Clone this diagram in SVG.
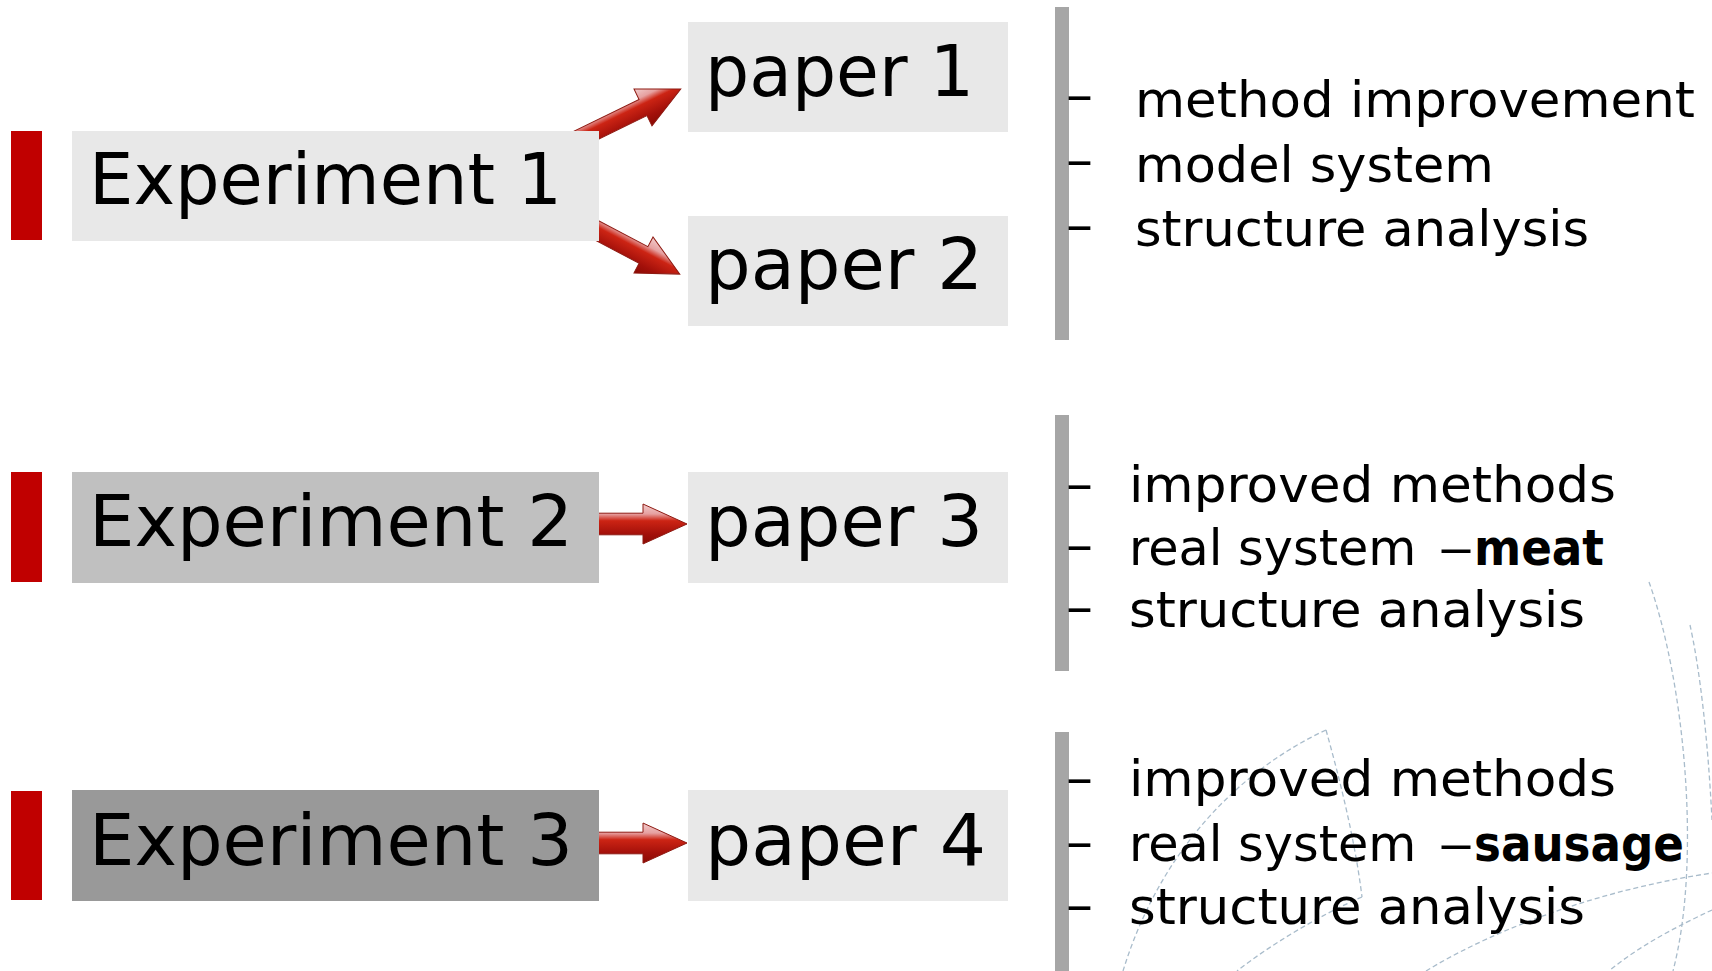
<svg xmlns="http://www.w3.org/2000/svg" width="1712" height="971" viewBox="0 0 1712 971">
  <style>
    .bar { fill: #c00000; }
    .note-bar { fill: #a6a6a6; }
    .box-light { fill: #e8e8e8; }
    .box-mid { fill: #c0c0c0; }
    .box-dark { fill: #999999; }
    .big { font-family: "DejaVu Sans", "Liberation Sans", sans-serif; font-size: 72px; fill: #000; }
    .note { font-family: "DejaVu Sans", "Liberation Sans", sans-serif; font-size: 50px; fill: #000; }
    .dash { font-family: "DejaVu Sans", "Liberation Sans", sans-serif; font-size: 52px; fill: #000; }
    .b { font-weight: bold; }
    .deco { fill: none; stroke: #a9bccb; stroke-width: 1.3; stroke-dasharray: 5 3; }
    .arrow { fill: url(#arrowGrad); stroke: #8e1a12; stroke-width: 1; stroke-linejoin: miter; }
  </style>
  <defs>
    <linearGradient id="arrowGrad" gradientUnits="userSpaceOnUse" x1="0" y1="-20" x2="0" y2="20">
      <stop offset="0" stop-color="#f2cccc"/>
      <stop offset="0.25" stop-color="#e6a0a0"/>
      <stop offset="0.42" stop-color="#cc2414"/>
      <stop offset="0.75" stop-color="#a3100a"/>
      <stop offset="1" stop-color="#8a0a04"/>
    </linearGradient>
  </defs>
  <rect width="1712" height="971" fill="#ffffff"/>

  <!-- background decoration -->
  <g id="decoration">
    <path class="deco" d="M1649,582 C1684,680 1702,860 1673,971"/>
    <path class="deco" d="M1690,625 C1700,670 1708,740 1712,820"/>
    <path class="deco" d="M1326,730 C1240,770 1160,850 1123,971"/>
    <path class="deco" d="M1326,730 C1340,780 1355,840 1362,897"/>
    <path class="deco" d="M1362,897 C1320,915 1270,945 1237,971"/>
    <path class="deco" d="M1426,971 C1480,938 1580,893 1712,873"/>
    <path class="deco" d="M1712,910 C1680,925 1640,945 1609,971"/>
  </g>

  <!-- connectors -->
  <g id="connectors">
    <path class="arrow" transform="translate(643,107.5) rotate(-26)" d="M-90,-9 L0,-9 L0,-20.5 L42,0 L0,20.5 L0,9 L-90,9 Z"/>
    <path class="arrow" transform="translate(643.5,255) rotate(27.8)" d="M-90,-9.4 L0,-9.4 L0,-20.4 L41,0 L0,20.4 L0,9.4 L-90,9.4 Z"/>
    <path class="arrow" transform="translate(643,524)" d="M-50,-10.8 L0,-10.8 L0,-20 L44,0 L0,20 L0,10.8 L-50,10.8 Z"/>
    <path class="arrow" transform="translate(643,843)" d="M-50,-10.8 L0,-10.8 L0,-20 L44,0 L0,20 L0,10.8 L-50,10.8 Z"/>
  </g>

  <!-- experiments -->
  <g id="experiment1">
    <rect class="bar" x="11" y="131" width="31" height="109"/>
    <rect class="box-light" x="72" y="131" width="527" height="110"/>
    <text class="big" x="89" y="204" textLength="473" lengthAdjust="spacingAndGlyphs">Experiment 1</text>
  </g>
  <g id="experiment2">
    <rect class="bar" x="11" y="472" width="31" height="110"/>
    <rect class="box-mid" x="72" y="472" width="527" height="111"/>
    <text class="big" x="89" y="545.5" textLength="484" lengthAdjust="spacingAndGlyphs">Experiment 2</text>
  </g>
  <g id="experiment3">
    <rect class="bar" x="11" y="791" width="31" height="109"/>
    <rect class="box-dark" x="72" y="790" width="527" height="111"/>
    <text class="big" x="89" y="864.5" textLength="484" lengthAdjust="spacingAndGlyphs">Experiment 3</text>
  </g>

  <!-- papers -->
  <g id="paper1">
    <rect class="box-light" x="688" y="22" width="320" height="110"/>
    <text class="big" x="705" y="96" textLength="269" lengthAdjust="spacingAndGlyphs">paper 1</text>
  </g>
  <g id="paper2">
    <rect class="box-light" x="688" y="216" width="320" height="110"/>
    <text class="big" x="705" y="289" textLength="278" lengthAdjust="spacingAndGlyphs">paper 2</text>
  </g>
  <g id="paper3">
    <rect class="box-light" x="688" y="472" width="320" height="111"/>
    <text class="big" x="705" y="545.5" textLength="278" lengthAdjust="spacingAndGlyphs">paper 3</text>
  </g>
  <g id="paper4">
    <rect class="box-light" x="688" y="790" width="320" height="111"/>
    <text class="big" x="705" y="864.5" textLength="281" lengthAdjust="spacingAndGlyphs">paper 4</text>
  </g>

  <!-- notes -->
  <g id="notes1">
    <rect class="note-bar" x="1055" y="7" width="14" height="333"/>
    <text class="dash" x="1066" y="112" textLength="27" lengthAdjust="spacingAndGlyphs">–</text>
    <text class="dash" x="1066" y="177" textLength="27" lengthAdjust="spacingAndGlyphs">–</text>
    <text class="dash" x="1066" y="242" textLength="27" lengthAdjust="spacingAndGlyphs">–</text>
    <text class="note" x="1135" y="117" textLength="560" lengthAdjust="spacingAndGlyphs">method improvement</text>
    <text class="note" x="1135" y="182" textLength="359" lengthAdjust="spacingAndGlyphs">model system</text>
    <text class="note" x="1135" y="246" textLength="454" lengthAdjust="spacingAndGlyphs">structure analysis</text>
  </g>
  <g id="notes2">
    <rect class="note-bar" x="1055" y="415" width="14" height="256"/>
    <text class="dash" x="1066" y="501" textLength="27" lengthAdjust="spacingAndGlyphs">–</text>
    <text class="dash" x="1066" y="562" textLength="27" lengthAdjust="spacingAndGlyphs">–</text>
    <text class="dash" x="1066" y="624" textLength="27" lengthAdjust="spacingAndGlyphs">–</text>
    <text class="note" x="1129" y="502" textLength="487" lengthAdjust="spacingAndGlyphs">improved methods</text>
    <text class="note" x="1129" y="565"><tspan textLength="303" lengthAdjust="spacingAndGlyphs">real system </tspan><tspan x="1438" textLength="36" lengthAdjust="spacingAndGlyphs">–</tspan><tspan class="b" x="1474" textLength="130" lengthAdjust="spacingAndGlyphs">meat</tspan></text>
    <text class="note" x="1129" y="627" textLength="456" lengthAdjust="spacingAndGlyphs">structure analysis</text>
  </g>
  <g id="notes3">
    <rect class="note-bar" x="1055" y="732" width="14" height="239"/>
    <text class="dash" x="1066" y="795" textLength="27" lengthAdjust="spacingAndGlyphs">–</text>
    <text class="dash" x="1066" y="859" textLength="27" lengthAdjust="spacingAndGlyphs">–</text>
    <text class="dash" x="1066" y="922" textLength="27" lengthAdjust="spacingAndGlyphs">–</text>
    <text class="note" x="1129" y="796" textLength="487" lengthAdjust="spacingAndGlyphs">improved methods</text>
    <text class="note" x="1129" y="861"><tspan textLength="303" lengthAdjust="spacingAndGlyphs">real system </tspan><tspan x="1438" textLength="36" lengthAdjust="spacingAndGlyphs">–</tspan><tspan class="b" x="1474" textLength="210" lengthAdjust="spacingAndGlyphs">sausage</tspan></text>
    <text class="note" x="1129" y="924" textLength="456" lengthAdjust="spacingAndGlyphs">structure analysis</text>
  </g>
</svg>
